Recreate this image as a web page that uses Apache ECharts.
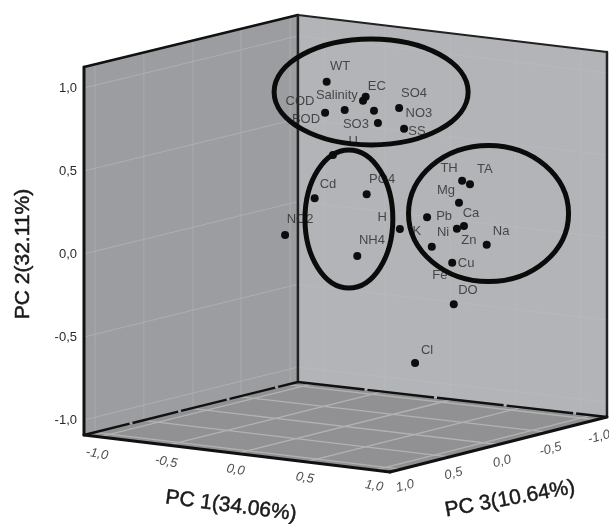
<!DOCTYPE html>
<html><head><meta charset="utf-8">
<style>html,body{margin:0;padding:0;background:#fff}#c{width:609px;height:524px}</style>
<script src="https://cdn.jsdelivr.net/npm/echarts@6/dist/echarts.min.js"></script>
</head><body><div id="c"></div>
<script>
// Points: [horizontal position in the projected view, PC 2]
const pointNames = ['WT','BOD','Salinity','EC','COD','SO3a','SO3','SO4','NO3','U','Cd','PO4','NO2','K','NH4','TH','TA','Mg','Pb','Ca','Ni','Zn','Na','Cu','DO','Cl'];
const pointH = [-0.072,-0.078,-0.003,0.077,0.067,0.109,0.124,0.205,0.224,-0.048,-0.118,0.081,-0.231,0.208,0.045,0.446,0.476,0.434,0.312,0.453,0.426,0.330,0.540,0.408,0.414,0.266];
const pointPC2 = [1.038,0.851,0.867,0.948,0.923,0.863,0.789,0.880,0.755,0.596,0.336,0.360,0.114,0.151,-0.012,0.442,0.420,0.309,0.221,0.169,0.152,0.044,0.056,-0.052,-0.303,-0.657];
// Text labels
const labelNames = ['WT','COD','BOD','Salinity','EC','SO4','NO3','SO3','SS','U','Cd','PO4','NO2','H','K','NH4','TH','TA','Mg','Pb','Ca','Ni','Zn','Na','Cu','Fe','DO','Cl'];
const labelH = [-0.021,-0.174,-0.151,-0.033,0.120,0.262,0.281,0.040,0.273,0.029,-0.067,0.140,-0.174,0.140,0.273,0.101,0.396,0.533,0.384,0.377,0.480,0.373,0.472,0.595,0.461,0.361,0.468,0.312];
const labelV = [1.133,0.922,0.813,0.958,1.012,0.970,0.849,0.783,0.741,0.681,0.422,0.452,0.211,0.223,0.139,0.084,0.518,0.512,0.380,0.229,0.247,0.127,0.084,0.139,-0.054,-0.127,-0.217,-0.578];
// Axis ticks
const floorTicks = [-1,-0.5,0,0.5,1];
const fmt = v => v.toFixed(1).replace('.',',');
// Box corners [h, v]
const A=[-1,-1.09], B=[-0.182,-0.771], C=[1,-0.982], D=[0.170,-1.313];
const At=[-1,1.127], Bt=[-0.182,1.44], Ct=[1,1.217];
// Cluster rings [h, v, radius h, radius v]
const rings = [[0.098,0.976,0.371,0.319],[0.013,0.211,0.168,0.416],[0.547,0.244,0.306,0.410]];
const wallGridH = [-0.958,-0.771,-0.583,-0.400,-0.212];
const wallGridV = [1,0.5,0,-0.5,-1];
const rightGridH = [-0.08,0.15,0.40,0.65,0.9];
const floorFrac = [0.05,0.275,0.5,0.725,0.95];

const lerp=(a,b,t)=>[a[0]+(b[0]-a[0])*t,a[1]+(b[1]-a[1])*t];
const tOf=v=>(At[1]-v)/(At[1]-A[1]);

function renderBox(params, api){
  const c=p=>api.coord(p);
  const poly=(pts,fill)=>({type:'polygon',shape:{points:pts.map(c)},style:{fill}});
  const line=(p,q,color,w,dash)=>({type:'line',shape:{x1:c(p)[0],y1:c(p)[1],x2:c(q)[0],y2:c(q)[1]},style:{stroke:color,lineWidth:w,lineCap:dash?'butt':'round',lineDash:dash||null}});
  const ch=[poly([At,Bt,B,A],'#9b9da1'),poly([Bt,Ct,C,B],'#b2b4b7'),poly([A,B,C,D],'#919194')];
  wallGridH.forEach(h=>{const f=(h-A[0])/(B[0]-A[0]);ch.push(line(lerp(At,Bt,f),lerp(A,B,f),'#a9abae',1));});
  wallGridV.forEach(v=>{const t=tOf(v);ch.push(line(lerp(At,A,t),lerp(Bt,B,t),'#adafb2',1));});
  rightGridH.forEach(h=>{const f=(h-B[0])/(C[0]-B[0]);ch.push(line(lerp(Bt,Ct,f),lerp(B,C,f),'#b7b9bc',1));});
  wallGridV.forEach(v=>{const t=tOf(v);ch.push(line(lerp(Bt,B,t),lerp(Ct,C,t),'#b7b9bc',1));});
  floorFrac.forEach(f=>{
    ch.push(line(lerp(A,D,f),lerp(B,C,f),'#b2b2b4',1.3));
    ch.push(line(lerp(D,C,f),lerp(A,B,f),'#b2b2b4',1.3));
  });
  ch.push(line(At,A,'#111',3),line(At,Bt,'#111',2.5),line(Bt,B,'#222',2.5),line(Bt,Ct,'#222',2),line(Ct,C,'#222',2.5));
  ch.push(line(A,B,'#111',2.5,[47,3]),line(B,C,'#111',2.5,[67,3]),line(A,D,'#111',3),line(D,C,'#111',3));
  return {type:'group',children:ch};
}
function renderRing(params, api){
  const r=rings[params.dataIndex];
  const ctr=api.coord([r[0],r[1]]), s=api.size([r[2],r[3]]);
  return {type:'ellipse',shape:{cx:ctr[0],cy:ctr[1],rx:s[0],ry:s[1]},style:{fill:'none',stroke:'#0b0b0b',lineWidth:5}};
}
const font='"Liberation Sans", Arial, sans-serif';
const textSeries=(data,rotate,extra)=>({type:'scatter',symbol:'circle',symbolSize:1,clip:false,z:4,silent:true,data,
  itemStyle:{color:'rgba(0,0,0,0)'},
  label:Object.assign({show:true,position:'inside',formatter:p=>p.name,rotate,fontFamily:font,fontSize:13,color:'#2a2a2a',align:'center',verticalAlign:'middle'},extra||{})});

const chart=echarts.init(document.getElementById('c'),null,{renderer:'canvas'});
chart.setOption({
  animation:false,
  backgroundColor:'#fff',
  grid:{left:84,right:2,top:5,height:498,outerBoundsMode:'none'},
  xAxis:{type:'value',min:-1,max:1,show:false},
  yAxis:{type:'value',min:-1.5,max:1.5,interval:0.5,
    axisLine:{show:false},axisTick:{show:false},splitLine:{show:false},
    axisLabel:{margin:7,fontFamily:font,fontSize:13,color:'#2a2a2a',formatter:v=>Math.abs(v)>1?'':fmt(v)},
    name:'PC 2(32.11%)',nameLocation:'middle',nameGap:50,nameRotate:90,
    nameTextStyle:{fontFamily:font,fontSize:21,color:'#1a1a1a',textBorderColor:'#1a1a1a',textBorderWidth:0.5}},
  series:[
    {type:'custom',z:1,silent:true,clip:false,data:[[0,0]],renderItem:renderBox},
    {type:'scatter',z:3,symbol:'circle',symbolSize:8,silent:true,itemStyle:{color:'#0d0d0d',opacity:1},
      data:pointNames.map((n,i)=>({name:n,value:[pointH[i],pointPC2[i]]}))},
    textSeries(labelNames.map((n,i)=>({name:n,value:[labelH[i],labelV[i]]})),0),
    textSeries(floorTicks.map(t=>({name:fmt(t),value:[-0.4206+0.5296*t,-1.301-0.0964*t]})),-10,{fontStyle:'italic',fontSize:13,color:'#222'}),
    textSeries(floorTicks.map(t=>({name:fmt(t),value:[0.5985-0.3709*t,-1.25-0.1476*t]})),14,{fontStyle:'italic',fontSize:13,color:'#222'}),
    {type:'custom',z:5,silent:true,clip:false,data:rings.map(r=>[r[0],r[1]]),renderItem:renderRing}
  ],
  graphic:[
    {type:'text',x:231,y:506,rotation:-0.13,z:10,style:{text:'PC 1(34.06%)',font:'21px '+font,fill:'#1a1a1a',stroke:'#1a1a1a',lineWidth:0.5,align:'center',verticalAlign:'middle'}},
    {type:'text',x:510,y:499,rotation:0.18,z:10,style:{text:'PC 3(10.64%)',font:'21px '+font,fill:'#1a1a1a',stroke:'#1a1a1a',lineWidth:0.5,align:'center',verticalAlign:'middle'}}
  ]
});
</script></body></html>
